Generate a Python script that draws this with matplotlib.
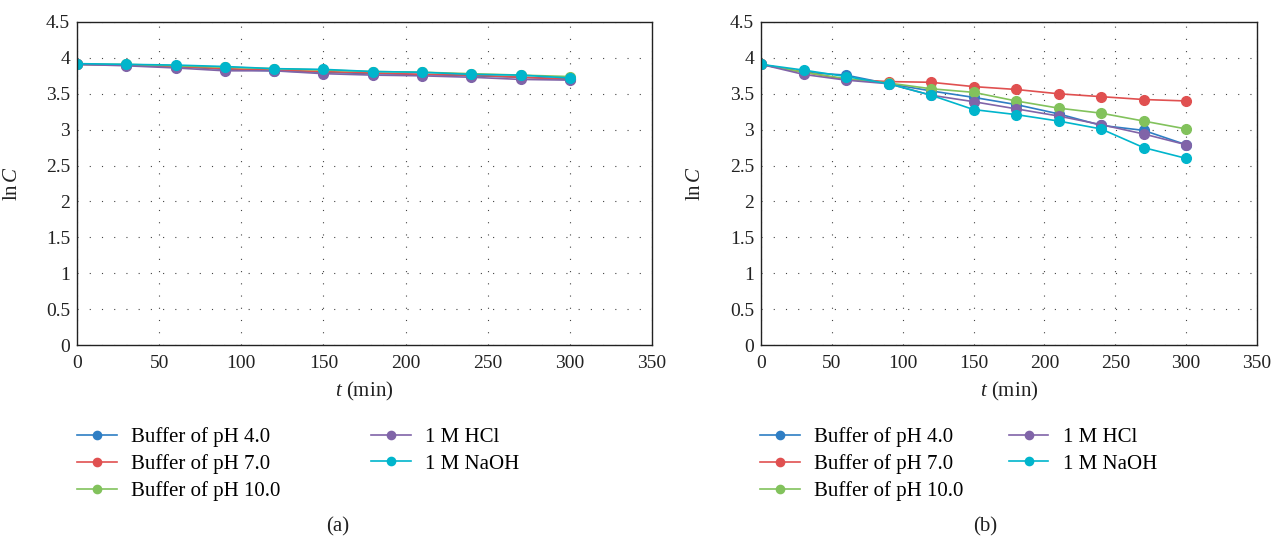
import matplotlib
matplotlib.use("Agg")
import matplotlib.pyplot as plt

plt.rcParams['font.family'] = ['Liberation Serif', 'DejaVu Serif']
plt.rcParams['mathtext.fontset'] = 'custom'
plt.rcParams['mathtext.rm'] = 'Liberation Serif'
plt.rcParams['mathtext.it'] = 'Liberation Serif:italic'

# time points (min)
t = [0, 30, 60, 90, 120, 150, 180, 210, 240, 270, 300]

labels = ["Buffer of pH 4.0", "Buffer of pH 7.0", "Buffer of pH 10.0", "1 M HCl", "1 M NaOH"]
colors = ["#2e7ec4", "#e05050", "#82c25c", "#8064a8", "#00b5cc"]

# panel (a)
a_ph4 = [3.91, 3.90, 3.88, 3.84, 3.82, 3.80, 3.78, 3.77, 3.75, 3.73, 3.71]
a_ph7 = [3.91, 3.90, 3.88, 3.85, 3.83, 3.81, 3.79, 3.77, 3.76, 3.73, 3.70]
a_ph10 = [3.91, 3.91, 3.89, 3.87, 3.85, 3.83, 3.81, 3.80, 3.78, 3.76, 3.74]
a_hcl = [3.91, 3.89, 3.86, 3.82, 3.82, 3.78, 3.76, 3.75, 3.73, 3.70, 3.69]
a_naoh = [3.92, 3.91, 3.90, 3.88, 3.85, 3.84, 3.81, 3.80, 3.77, 3.76, 3.72]

# panel (b)
b_ph4 = [3.91, 3.80, 3.76, 3.64, 3.54, 3.45, 3.35, 3.22, 3.06, 2.99, 2.79]
b_ph7 = [3.91, 3.80, 3.70, 3.67, 3.66, 3.60, 3.56, 3.50, 3.46, 3.42, 3.40]
b_ph10 = [3.91, 3.80, 3.71, 3.65, 3.57, 3.52, 3.40, 3.30, 3.23, 3.12, 3.01]
b_hcl = [3.91, 3.77, 3.69, 3.64, 3.48, 3.39, 3.29, 3.19, 3.07, 2.94, 2.79]
b_naoh = [3.91, 3.83, 3.74, 3.64, 3.48, 3.28, 3.21, 3.12, 3.01, 2.75, 2.60]

W, H = 1274, 539
fig = plt.figure(figsize=(W / 100, H / 100), dpi=100)

def panel(rect, series, ylab_x, colspace, leg_x, cap, cap_x):
	ax = fig.add_axes(rect)
	for y, c, lab in zip(series, colors, labels):
		ax.plot(t, y, color=c, lw=1.2, marker='o', ms=7, label=lab)
	ax.set_xlim(0, 350)
	ax.set_ylim(0, 4.5)
	ax.set_xticks(range(0, 351, 50))
	ax.set_yticks([0, 0.5, 1, 1.5, 2, 2.5, 3, 3.5, 4.0, 4.5])
	ax.set_yticklabels(["0", "0.5", "1", "1.5", "2", "2.5", "3", "3.5", "4", "4.5"])
	ax.tick_params(length=0, labelsize=14, colors='#222222')
	ax.tick_params(axis='x', pad=7)
	ax.tick_params(axis='y', pad=5)
	ax.grid(True, color='#444444', lw=0.8, linestyle=(0, (1, 10)))
	for s in ax.spines.values():
		s.set_color('#222222')
		s.set_linewidth(1.0)
	ax.set_ylabel(r'ln$\,C$', fontsize=15, color='#222222')
	ax.yaxis.set_label_coords(ylab_x, 0.5)
	ax.set_xlabel(r'$t$ (min)', fontsize=15, color='#222222', labelpad=6)
	ax.legend(loc='upper left', bbox_to_anchor=(leg_x / W, 1 - 427 / H),
		bbox_transform=fig.transFigure, ncol=2, frameon=False, fontsize=15,
		handlelength=1.9, handletextpad=0.7, columnspacing=colspace,
		labelspacing=0.35, borderpad=0, borderaxespad=0, markerscale=0.85)
	fig.text(cap_x / W, 1 - 527 / H, cap, fontsize=15, ha='center', va='center', color='#222222')
	return ax

top = 1 - 22 / H
bottom = 1 - 345 / H
panel([77 / W, bottom, (652 - 77) / W, top - bottom],
	[a_ph4, a_ph7, a_ph10, a_hcl, a_naoh], -0.096, 4.35, 77, "(a)", 338)
panel([761 / W, bottom, (1257 - 761) / W, top - bottom],
	[b_ph4, b_ph7, b_ph10, b_hcl, b_naoh], -0.113, 2.17, 760, "(b)", 985)

fig.savefig("out.png", dpi=100)
